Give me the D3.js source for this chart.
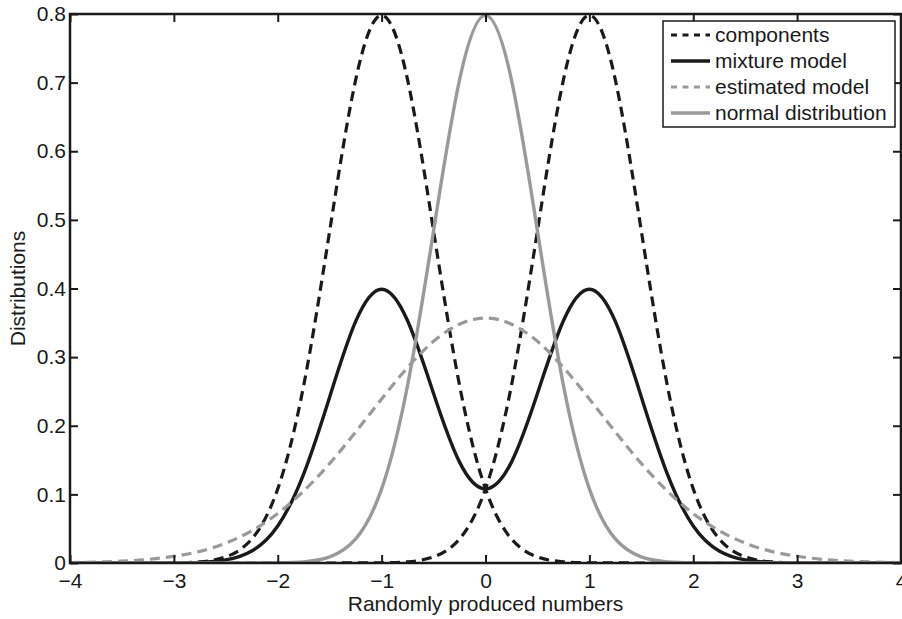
<!DOCTYPE html>
<html>
<head>
<meta charset="utf-8">
<script src="https://cdn.jsdelivr.net/npm/d3@7"></script>
<style>
    body { margin: 0; background: #fff; }
    text { font-family: "Liberation Sans", Arial, sans-serif; }
</style>
</head>
<body>
<div id="chart"></div>
<script>
var xValues = [-4, -3.75, -3.5, -3.25, -3, -2.75, -2.5, -2.25, -2, -1.75, -1.5, -1.25, -1, -0.75, -0.5, -0.25,
    0, 0.25, 0.5, 0.75, 1, 1.25, 1.5, 1.75, 2, 2.25, 2.5, 2.75, 3, 3.25, 3.5, 3.75, 4];

var componentLeft = [0, 0, 0, 0.0001, 0.0003, 0.0017, 0.0089, 0.035, 0.108, 0.259, 0.484, 0.704, 0.798, 0.704, 0.484, 0.259,
    0.108, 0.035, 0.0089, 0.0017, 0.0003, 0.0001, 0, 0, 0, 0, 0, 0, 0, 0, 0, 0, 0];
var componentRight = [0, 0, 0, 0, 0, 0, 0, 0, 0, 0, 0, 0.0001, 0.0003, 0.0017, 0.0089, 0.035,
    0.108, 0.259, 0.484, 0.704, 0.798, 0.704, 0.484, 0.259, 0.108, 0.035, 0.0089, 0.0017, 0.0003, 0.0001, 0, 0, 0];
var mixtureModel = [0, 0, 0, 0.0001, 0.0002, 0.0009, 0.0045, 0.0175, 0.054, 0.130, 0.242, 0.352, 0.399, 0.353, 0.247, 0.147,
    0.108, 0.147, 0.247, 0.353, 0.399, 0.352, 0.242, 0.130, 0.054, 0.0175, 0.0045, 0.0009, 0.0002, 0.0001, 0, 0, 0];
var estimatedModel = [0.0006, 0.0013, 0.0027, 0.0052, 0.0098, 0.017, 0.029, 0.047, 0.072, 0.105, 0.145, 0.191, 0.239, 0.285, 0.323, 0.348,
    0.357, 0.348, 0.323, 0.285, 0.239, 0.191, 0.145, 0.105, 0.072, 0.047, 0.029, 0.017, 0.0098, 0.0052, 0.0027, 0.0013, 0.0006];
var normalDist = [0, 0, 0, 0, 0, 0, 0, 0, 0.0003, 0.0017, 0.0089, 0.035, 0.108, 0.259, 0.484, 0.704,
    0.798, 0.704, 0.484, 0.259, 0.108, 0.035, 0.0089, 0.0017, 0.0003, 0, 0, 0, 0, 0, 0, 0, 0];

var xTicks = [-4, -3, -2, -1, 0, 1, 2, 3, 4];
var yTicks = [0, 0.1, 0.2, 0.3, 0.4, 0.5, 0.6, 0.7, 0.8];
var legendLabels = ["components", "mixture model", "estimated model", "normal distribution"];

var areaWidth = 902, areaHeight = 619;
var plotLeft = 70, plotRight = 901, plotTop = 14, plotBottom = 563;
var black = "#1a1a1a", gray = "#9a9a9a";
var fontSize = "21px";

var svg = d3.select("#chart").append("svg")
    .attr("width", areaWidth)
    .attr("height", areaHeight);

var xScale = d3.scaleLinear().domain([-4, 4]).range([plotLeft, plotRight]);
var yScale = d3.scaleLinear().domain([0, 0.8]).range([plotBottom, plotTop]);

// series drawn in plot order, components go as two separate curves
var series = [
    { values: componentLeft, color: black, dash: "10,6", width: 3.2 },
    { values: componentRight, color: black, dash: "10,6", width: 3.2 },
    { values: mixtureModel, color: black, dash: null, width: 3.4 },
    { values: estimatedModel, color: gray, dash: "10,6", width: 3.2 },
    { values: normalDist, color: gray, dash: null, width: 3.4 }
];

svg.append("clipPath").attr("id", "plot-clip")
    .append("rect")
    .attr("x", plotLeft).attr("y", plotTop - 2)
    .attr("width", plotRight - plotLeft).attr("height", plotBottom - plotTop + 2);

var line = d3.line()
    .x(function(d, i) { return xScale(xValues[i]); })
    .y(function(d) { return yScale(d); })
    .curve(d3.curveNatural);

svg.append("g")
    .attr("clip-path", "url(#plot-clip)")
    .selectAll("path")
    .data(series)
    .enter()
    .append("path")
    .attr("d", function(s) { return line(s.values); })
    .style("fill", "none")
    .style("stroke", function(s) { return s.color; })
    .style("stroke-width", function(s) { return s.width; })
    .style("stroke-dasharray", function(s) { return s.dash; });

// axes with inward ticks on all four sides
function fmtX(d) { return d < 0 ? "\u2212" + Math.abs(d) : String(d); }
function fmtY(d) { return d === 0 ? "0" : d3.format(".1f")(d); }

function styleAxis(g) {
    g.selectAll(".domain").remove();
    g.selectAll("line").style("stroke", black).style("stroke-width", 2);
    g.selectAll("text").style("font-size", fontSize).style("fill", black)
        .style("font-family", "'Liberation Sans', Arial, sans-serif");
}

svg.append("g")
    .attr("transform", "translate(0," + plotBottom + ")")
    .call(d3.axisBottom(xScale).tickValues(xTicks).tickFormat(fmtX).tickSizeInner(-8).tickSizeOuter(0).tickPadding(10))
    .call(styleAxis);
svg.append("g")
    .attr("transform", "translate(0," + plotTop + ")")
    .call(d3.axisTop(xScale).tickValues(xTicks).tickFormat("").tickSizeInner(-8).tickSizeOuter(0))
    .call(styleAxis);
svg.append("g")
    .attr("transform", "translate(" + plotLeft + ",0)")
    .call(d3.axisLeft(yScale).tickValues(yTicks).tickFormat(fmtY).tickSizeInner(-8).tickSizeOuter(0).tickPadding(4))
    .call(styleAxis);
svg.append("g")
    .attr("transform", "translate(" + plotRight + ",0)")
    .call(d3.axisRight(yScale).tickValues(yTicks).tickFormat("").tickSizeInner(-8).tickSizeOuter(0))
    .call(styleAxis);

// frame
svg.append("rect")
    .attr("x", plotLeft).attr("y", plotTop)
    .attr("width", plotRight - plotLeft).attr("height", plotBottom - plotTop)
    .style("fill", "none")
    .style("stroke", black)
    .style("stroke-width", 2.5);

// axis titles
svg.append("text")
    .text("Randomly produced numbers")
    .attr("x", (plotLeft + plotRight) / 2)
    .attr("y", 611)
    .attr("text-anchor", "middle")
    .style("font-size", fontSize)
    .style("fill", black);
svg.append("text")
    .text("Distributions")
    .attr("transform", "translate(25," + (plotTop + plotBottom) / 2 + ") rotate(-90)")
    .attr("text-anchor", "middle")
    .style("font-size", fontSize)
    .style("fill", black);

// legend
var legendStyles = [series[0], series[2], series[3], series[4]];
var legend = svg.append("g");
legend.append("rect")
    .attr("x", 663).attr("y", 21)
    .attr("width", 232).attr("height", 106)
    .style("fill", "#fff")
    .style("stroke", black)
    .style("stroke-width", 1.5);

var rows = legend.selectAll("g.row")
    .data(legendLabels)
    .enter()
    .append("g")
    .attr("class", "row")
    .attr("transform", function(d, i) { return "translate(0," + (35 + i * 26) + ")"; });

rows.append("line")
    .attr("x1", 671).attr("x2", 710)
    .attr("y1", 0).attr("y2", 0)
    .style("stroke", function(d, i) { return legendStyles[i].color; })
    .style("stroke-width", function(d, i) { return legendStyles[i].width; })
    .style("stroke-dasharray", function(d, i) { return legendStyles[i].dash ? "6,5.5" : null; });

rows.append("text")
    .text(function(d) { return d; })
    .attr("x", 715)
    .attr("y", 0)
    .attr("dy", "0.35em")
    .style("font-size", fontSize)
    .style("fill", black);
</script>
</body>
</html>
